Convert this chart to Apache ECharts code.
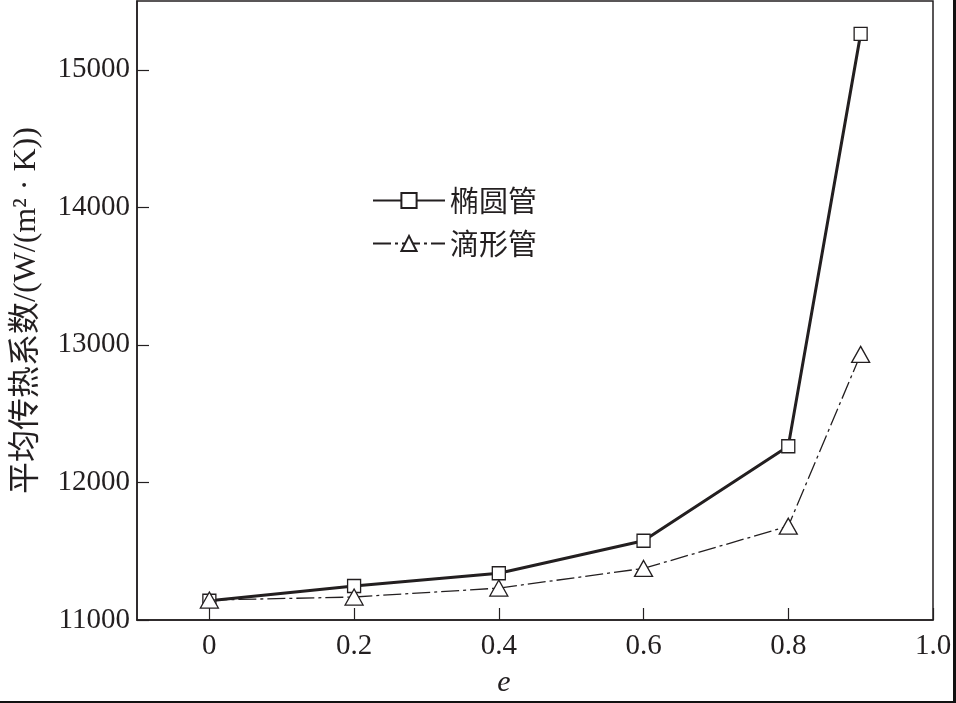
<!DOCTYPE html>
<html>
<head>
<meta charset="utf-8">
<script src="https://cdn.jsdelivr.net/npm/echarts@6/dist/echarts.min.js"></script>
<style>
html,body{margin:0;padding:0;background:#fff;}
#c{width:953px;height:701px;border-right:3px solid #111;border-bottom:2px solid #111;}
</style>
</head>
<body>
<div id="c"></div>
<script>
const xValues = [0, 0.2, 0.4, 0.6, 0.8, 0.9];
const ellipseTube = [11140, 11247, 11340, 11576, 12263, 15261];
const dropTube = [11145, 11167, 11232, 11375, 11682, 12931];
const xTicks = [0, 0.2, 0.4, 0.6, 0.8, 1.0];
const yTicks = [11000, 12000, 13000, 14000, 15000];
const seriesNames = ['椭圆管', '滴形管'];

const ink = '#231f20';
const chart = echarts.init(document.getElementById('c'));
chart.setOption({
  animation: false,
  backgroundColor: '#fff',
  grid: {left: 137, right: 20, top: 1, bottom: 81, show: true, borderColor: ink, borderWidth: 1.5,
    containLabel: false, outerBoundsMode: 'none'},
  legend: {
    left: 367, top: 181, orient: 'vertical', itemGap: 14,
    itemWidth: 72, itemHeight: 19,
    textStyle: {fontFamily: '"Noto Sans CJK SC"', fontSize: 29, color: ink, padding: [0,0,0,0]},
    data: seriesNames
  },
  xAxis: {
    type: 'value', min: -0.1, max: 1.0,
    name: 'e', nameLocation: 'middle', nameGap: 48,
    nameTextStyle: {fontFamily: '"Liberation Serif"', fontStyle: 'italic', fontSize: 30, color: ink, padding: [0, 62, 0, 0]},
    axisLine: {show: true, onZero: false, lineStyle: {color: ink, width: 1.5}},
    axisTick: {show: true, inside: true, length: 12, lineStyle: {color: ink, width: 1.2}, customValues: xTicks},
    axisLabel: {customValues: xTicks, margin: 12, fontFamily: '"Liberation Serif"', fontSize: 29, color: ink,
      formatter: v => (Math.abs(v) < 1e-9 ? '0' : Number(v).toFixed(1))},
    splitLine: {show: false}
  },
  yAxis: {
    type: 'value', min: 11000, max: 15500,
    name: '平均传热系数/(W/(m² · K))', nameLocation: 'middle', nameGap: 94, nameRotate: 90,
    nameTextStyle: {fontFamily: '"Liberation Serif", "Noto Sans CJK SC"', fontSize: 32, color: ink},
    axisLine: {show: true, onZero: false, lineStyle: {color: ink, width: 1.5}},
    axisTick: {show: true, inside: true, length: 12, lineStyle: {color: ink, width: 1.2}, customValues: yTicks},
    axisLabel: {customValues: yTicks, margin: 7, fontFamily: '"Liberation Serif"', fontSize: 29, color: ink,
      formatter: v => String(v)},
    splitLine: {show: false}
  },
  series: [
    {
      name: seriesNames[0], type: 'line',
      data: xValues.map((x, i) => [x, ellipseTube[i]]),
      symbol: 'rect', symbolSize: 13,
      lineStyle: {color: ink, width: 3},
      itemStyle: {color: '#fff', borderColor: ink, borderWidth: 1.3},
      z: 3
    },
    {
      name: seriesNames[1], type: 'line',
      data: xValues.map((x, i) => [x, dropTube[i]]),
      symbol: 'triangle', symbolSize: [18, 16],
      lineStyle: {color: ink, width: 1.3, type: [18, 4, 3, 4]},
      itemStyle: {color: '#fff', borderColor: ink, borderWidth: 1.3},
      z: 4
    }
  ]
});
</script>
</body>
</html>
